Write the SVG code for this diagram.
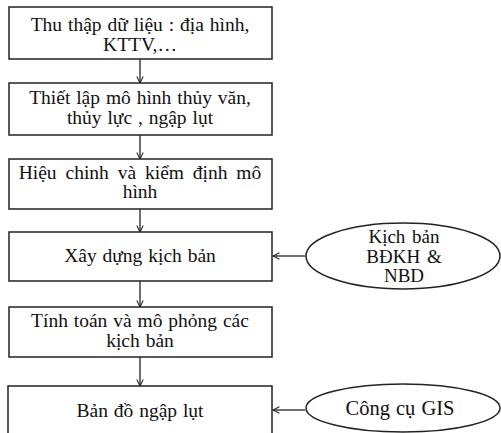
<svg xmlns="http://www.w3.org/2000/svg" width="501" height="433" viewBox="0 0 501 433">
<defs>
<marker id="arr" viewBox="0 0 10 10" refX="9" refY="5" markerWidth="8" markerHeight="8" orient="auto" markerUnits="userSpaceOnUse">
<path d="M1,1 L9,5 L1,9" fill="none" stroke="#222" stroke-width="1.3"/>
</marker>
<style>
rect, ellipse { fill: #fff; stroke: #222; stroke-width: 1.5; }
text { font-size: 19.5px; fill: #111; text-anchor: middle; word-spacing: 1px; }
.big { font-size: 20.5px; }
.mid { font-size: 19px; word-spacing: 2px; }
.c line { stroke: #222; stroke-width: 1.3; marker-end: url(#arr); }
</style>
</defs>
<rect x="0" y="0" width="501" height="433" style="fill:#fff;stroke:none"/>
<g class="c" id="connectors">
<line x1="140" y1="59" x2="140" y2="83"/>
<line x1="140" y1="135" x2="140" y2="159"/>
<line x1="140" y1="209" x2="140" y2="232"/>
<line x1="140" y1="281" x2="140" y2="307"/>
<line x1="140" y1="357" x2="140" y2="386"/>
<line x1="305" y1="256" x2="273" y2="256"/>
<line x1="305" y1="410" x2="273" y2="410"/>
</g>
<g font-family="'Liberation Serif', 'Times New Roman', serif">
<g id="n1"><rect x="9" y="7" width="263" height="52"/>
<text x="140" y="31">Thu thập dữ liệu : địa hình,</text>
<text x="140" y="51">KTTV,…</text></g>
<g id="n2"><rect x="9" y="83" width="263" height="52"/>
<text x="140" y="104">Thiết lập mô hình thủy văn,</text>
<text x="140" y="124">thủy lực , ngập lụt</text></g>
<g id="n3"><rect x="9" y="159" width="263" height="50"/>
<text x="140" y="179" style="word-spacing:4px">Hiệu chinh và kiểm định mô</text>
<text x="140" y="198">hình</text></g>
<g id="n4"><rect x="9" y="232" width="263" height="49"/>
<text x="140" y="262">Xây dựng kịch bản</text></g>
<g id="n5"><rect x="9" y="307" width="263" height="50"/>
<text x="140" y="327">Tính toán và mô phỏng các</text>
<text x="140" y="347">kịch bản</text></g>
<g id="n6"><rect x="8" y="386" width="264" height="60"/>
<text x="140" y="417">Bản đồ ngập lụt</text></g>
<g id="e1"><ellipse cx="403" cy="256" rx="97" ry="33"/>
<text class="mid" x="404" y="243">Kịch bản</text>
<text class="mid" x="404" y="263">BĐKH &amp;</text>
<text class="mid" x="404" y="282">NBD</text></g>
<g id="e2"><ellipse cx="403" cy="408" rx="97" ry="24"/>
<text class="big" x="400" y="415">Công cụ GIS</text></g>
</g>
</svg>
